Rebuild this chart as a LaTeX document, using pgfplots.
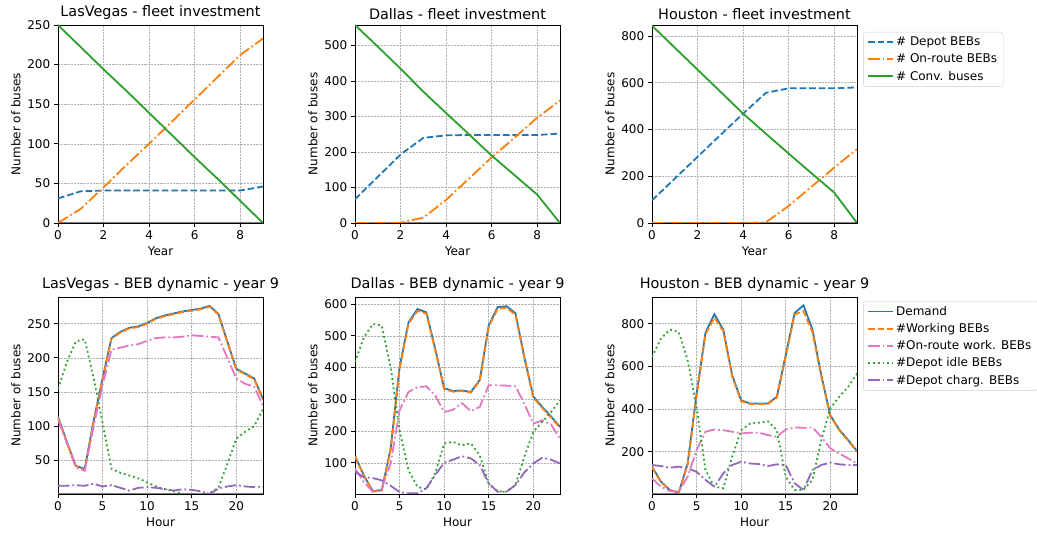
\documentclass[border=0pt]{standalone}
\usepackage{fontspec}
\setmainfont{DejaVu Sans}
\usepackage{pgfplots}
\usepackage{pgfplotstable}
\pgfplotsset{compat=1.18}

\definecolor{tblue}{HTML}{1F77B4}
\definecolor{torange}{HTML}{FF7F0E}
\definecolor{tgreen}{HTML}{2CA02C}
\definecolor{tpink}{HTML}{E377C2}
\definecolor{tpurple}{HTML}{9467BD}

% fleet investment per year: depot BEBs, on-route BEBs, conventional buses
\pgfplotstableread{
yr depot onroute conv
0 31 0 250
1 40 18 222
2 41 45 194
3 41 73 167
4 41 100 139
5 41 128 111
6 41 156 83
7 41 184 56
8 41 212 28
9 46 233 0
}\fleetLV
\pgfplotstableread{
yr depot onroute conv
0 67 0 558
1 130 0 497
2 193 1 435
3 240 15 370
4 247 65 310
5 248 125 250
6 248 185 190
7 248 240 135
8 248 297 80
9 252 345 0
}\fleetDA
\pgfplotstableread{
yr depot onroute conv
0 97 0 844
1 190 0 750
2 283 0 656
3 376 0 562
4 468 0 468
5 557 3 382
6 576 73 297
7 576 155 213
8 576 237 130
9 580 316 0
}\fleetHO

% hourly BEB dynamic, year 9
\pgfplotstableread{
h dem work onr idle charg
0 114 113 110 155 13
1 77 76 75 194 13
2 42 42 40 224 14
3 38 36 35 227 13
4 108 106 100 170 16
5 170 168 160 105 12
6 229 228 212 38 14
7 238 237 215 32 10
8 244 243 218 28 6
9 246 245 220 24 10
10 251 250 225 18 11
11 258 257 229 12 10
12 262 261 230 8 8
13 265 264 230 5 6
14 268 267 231 1 8
15 270 269 233 0 7
16 272 271 232 0 5
17 276 275 231 2 1
18 264 263 230 10 9
19 224 223 200 45 12
20 184 183 170 82 14
21 177 176 162 92 12
22 170 169 158 100 11
23 140 139 130 125 12
}\dynLV
\pgfplotstableread{
h dem work onr idle charg
0 122 120 82 417 72
1 60 58 40 495 55
2 11 10 9 537 52
3 14 13 19 532 45
4 145 140 98 401 28
5 400 395 265 203 8
6 542 538 323 77 4
7 584 578 338 25 4
8 574 570 341 16 20
9 459 455 312 67 62
10 335 332 260 161 100
11 326 324 267 166 110
12 328 326 288 155 121
13 323 321 263 161 114
14 361 359 276 124 93
15 532 528 344 35 35
16 590 585 344 11 9
17 593 588 343 9 9
18 571 566 341 30 30
19 433 430 286 119 70
20 309 306 223 197 98
21 276 273 234 229 116
22 246 243 221 260 110
23 213 210 176 297 98
}\dynDA
\pgfplotstableread{
h dem work onr idle charg
0 130 128 75 644 138
1 60 58 36 730 133
2 21 20 16 772 125
3 8 8 13 761 130
4 145 140 83 629 122
5 470 460 208 410 106
6 758 750 294 114 68
7 844 828 304 36 36
8 772 765 301 29 99
9 558 552 294 177 138
10 441 437 286 301 153
11 426 424 289 332 145
12 426 424 289 336 142
13 426 424 278 343 133
14 457 452 270 301 141
15 652 645 304 83 138
16 850 843 314 21 52
17 886 859 312 21 21
18 772 761 314 68 114
19 558 552 270 255 138
20 371 368 216 403 149
21 304 301 192 457 141
22 255 252 169 504 138
23 203 200 145 566 138
}\dynHO

\pgfplotsset{
  legend image code/.code={\draw[#1, line width=1.8pt] (0pt,0pt) -- (25pt,0pt);},
  mpl/.style={
    scale only axis, width=205pt, height=198pt,
    axis line style={black, line width=0.96pt},
    tick align=outside, tick pos=left,
    major tick length=4.2pt,
    every tick/.style={black, line width=0.96pt},
    grid=major,
    major grid style={gray!60, line width=0.5pt, dash pattern=on 2.2pt off 1pt},
    tick label style={font=\fontsize{12}{14}\selectfont},
    label style={font=\fontsize{12}{14}\selectfont},
    title style={font=\fontsize{14.4}{17}\selectfont, yshift=-4pt},
    ylabel={Number of buses},
    /pgf/number format/assume math mode=true,
    legend cell align=left,
    legend style={draw=black!18, rounded corners=2.5pt, fill=white,
      font=\fontsize{12}{14}\selectfont, row sep=2.6pt,
      inner xsep=4pt, inner ysep=3pt, anchor=north west},
  },
  top/.style={mpl, xmin=0, xmax=9, ymin=0, xtick={0,2,4,6,8}, xlabel={Year}},
  bot/.style={mpl, height=197pt, xmin=0, xmax=23, xtick={0,5,10,15,20}, xlabel={Hour}},
  sdash/.style={color=#1, line width=1.8pt, dash pattern=on 6.66pt off 2.88pt},
  sdashdot/.style={color=#1, line width=1.8pt, dash pattern=on 11.5pt off 2.88pt on 1.8pt off 2.88pt},
  sdot/.style={color=#1, line width=1.8pt, dash pattern=on 1.8pt off 2.97pt},
  ssolid/.style={color=#1, line width=1.8pt, solid},
}

\begin{document}
\begin{tikzpicture}
\useasboundingbox (0,0) rectangle (1037pt,533pt);

% ---------- top row: fleet investment ----------
\begin{axis}[top, at={(58pt,310pt)}, anchor=south west,
  title={LasVegas - fleet investment}, ymax=250, ytick={0,50,...,250}]
\draw[gray, line width=1.8pt] (rel axis cs:0,0) -- (rel axis cs:1,0);
\addplot[sdash=tblue] table[x=yr, y=depot] {\fleetLV};
\addplot[sdashdot=torange] table[x=yr, y=onroute] {\fleetLV};
\addplot[ssolid=tgreen] table[x=yr, y=conv] {\fleetLV};
\end{axis}

\begin{axis}[top, at={(355pt,310pt)}, anchor=south west,
  title={Dallas - fleet investment}, ymax=558, ytick={0,100,...,500}]
\draw[gray, line width=1.8pt] (rel axis cs:0,0) -- (rel axis cs:1,0);
\addplot[sdash=tblue] table[x=yr, y=depot] {\fleetDA};
\addplot[sdashdot=torange] table[x=yr, y=onroute] {\fleetDA};
\addplot[ssolid=tgreen] table[x=yr, y=conv] {\fleetDA};
\end{axis}

\begin{axis}[top, at={(652pt,310pt)}, anchor=south west,
  title={Houston - fleet investment}, ymax=847, ytick={0,200,...,800},
  legend style={at={(1.03,0.965)}}]
\draw[gray, line width=1.8pt] (rel axis cs:0,0) -- (rel axis cs:1,0);
\addplot[sdash=tblue] table[x=yr, y=depot] {\fleetHO};
\addlegendentry{\# Depot BEBs}
\addplot[sdashdot=torange] table[x=yr, y=onroute] {\fleetHO};
\addlegendentry{\# On-route BEBs}
\addplot[ssolid=tgreen] table[x=yr, y=conv] {\fleetHO};
\addlegendentry{\# Conv. buses}
\end{axis}

% ---------- bottom row: BEB dynamic ----------
\begin{axis}[bot, at={(58pt,39pt)}, anchor=south west,
  title={LasVegas - BEB dynamic - year 9}, ymin=1, ymax=289, ytick={50,100,...,250}]
\draw[gray, line width=1.8pt] (rel axis cs:0,0) -- (rel axis cs:1,0);
\addplot[ssolid=tblue] table[x=h, y=dem] {\dynLV};
\addplot[sdash=torange] table[x=h, y=work] {\dynLV};
\addplot[sdashdot=tpink] table[x=h, y=onr] {\dynLV};
\addplot[sdot=tgreen] table[x=h, y=idle] {\dynLV};
\addplot[sdashdot=tpurple] table[x=h, y=charg] {\dynLV};
\end{axis}

\begin{axis}[bot, at={(355pt,39pt)}, anchor=south west,
  title={Dallas - BEB dynamic - year 9}, ymin=2, ymax=622, ytick={100,200,...,600}]
\addplot[ssolid=tblue] table[x=h, y=dem] {\dynDA};
\addplot[sdash=torange] table[x=h, y=work] {\dynDA};
\addplot[sdashdot=tpink] table[x=h, y=onr] {\dynDA};
\addplot[sdot=tgreen] table[x=h, y=idle] {\dynDA};
\addplot[sdashdot=tpurple] table[x=h, y=charg] {\dynDA};
\end{axis}

\begin{axis}[bot, at={(652pt,39pt)}, anchor=south west,
  title={Houston - BEB dynamic - year 9}, ymin=2, ymax=925, ytick={200,400,...,800},
  legend style={at={(1.03,0.98)}}]
\draw[gray, line width=1.8pt] (rel axis cs:0,0) -- (rel axis cs:1,0);
\addplot[ssolid=tblue] table[x=h, y=dem] {\dynHO};
\addlegendentry{Demand}
\addplot[sdash=torange] table[x=h, y=work] {\dynHO};
\addlegendentry{\#Working BEBs}
\addplot[sdashdot=tpink] table[x=h, y=onr] {\dynHO};
\addlegendentry{\#On-route work. BEBs}
\addplot[sdot=tgreen] table[x=h, y=idle] {\dynHO};
\addlegendentry{\#Depot idle BEBs}
\addplot[sdashdot=tpurple] table[x=h, y=charg] {\dynHO};
\addlegendentry{\#Depot charg. BEBs}
\end{axis}
\end{tikzpicture}
\end{document}
